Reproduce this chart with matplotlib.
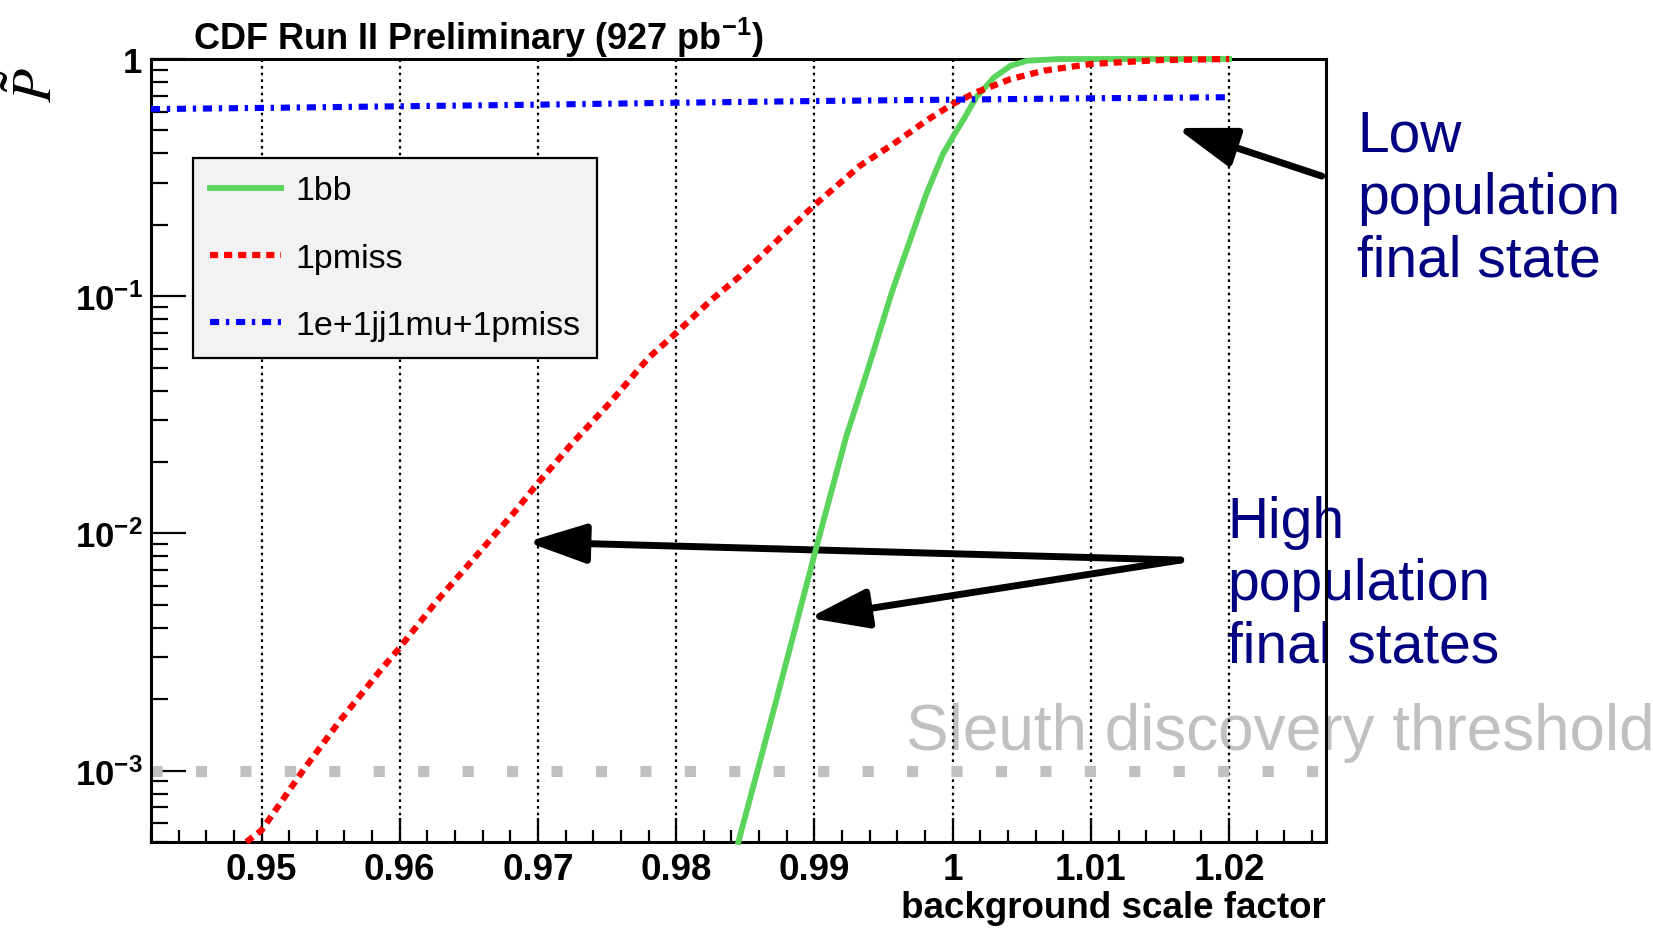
import numpy as np
import matplotlib.pyplot as plt
from matplotlib.ticker import MultipleLocator, LogLocator, FuncFormatter, NullFormatter

plt.rcParams['font.family'] = ['Liberation Sans', 'DejaVu Sans']
plt.rcParams['mathtext.fontset'] = 'custom'
plt.rcParams['mathtext.rm'] = 'Liberation Sans:bold'
plt.rcParams['mathtext.bf'] = 'Liberation Sans:bold'
plt.rcParams['mathtext.default'] = 'bf'

# values
x_1bb = [0.9845, 0.9870, 0.9902, 0.9923, 0.9940, 0.9956, 0.9969, 0.9981,
         0.9993, 1.0000, 1.0008, 1.0017, 1.0030, 1.0042, 1.0054, 1.0078, 1.0200]
p_1bb = [5.0e-4, 1.75e-3, 9.0e-3, 2.56e-2, 5.2e-2, 0.104, 0.171, 0.27,
         0.398, 0.468, 0.558, 0.689, 0.837, 0.937, 0.984, 1.0, 1.0]

x_1pmiss = [0.9489, 0.9500, 0.9530, 0.9557, 0.9585, 0.9600, 0.9627, 0.9655,
            0.9683, 0.9700, 0.9724, 0.9752, 0.9780, 0.9800, 0.9825, 0.9845,
            0.9870, 0.9900, 0.9933, 0.9957, 0.9981, 1.0000, 1.0017, 1.0042,
            1.0066, 1.0100, 1.0150, 1.0200]
p_1pmiss = [5.0e-4, 5.6e-4, 1.0e-3, 1.63e-3, 2.6e-3, 3.3e-3, 5.2e-3, 8.0e-3,
            1.23e-2, 1.63e-2, 2.37e-2, 3.55e-2, 5.5e-2, 7.0e-2, 9.6e-2, 0.12,
            0.165, 0.242, 0.355, 0.438, 0.55, 0.646, 0.724, 0.823,
            0.893, 0.953, 0.99, 1.0]

x_multi = [0.942, 0.950, 0.960, 0.970, 0.980, 0.990, 1.000, 1.010, 1.020]
p_multi = [0.615, 0.622, 0.632, 0.642, 0.654, 0.665, 0.674, 0.683, 0.690]

threshold = 1e-3

fig = plt.figure(figsize=(16.53, 9.29), dpi=100)
ax = fig.add_axes([0.0913, 0.0926, 0.7108, 0.8428])

ax.plot(x_1bb, p_1bb, color='#5ad45a', lw=4.2, label='1bb', clip_on=False, zorder=4)
ax.plot(x_1pmiss, p_1pmiss, color='#ff0000', lw=4.5, dashes=(1.3, 0.95),
        label='1pmiss', clip_on=False, zorder=4)
ax.plot(x_multi, p_multi, color='#0000ff', lw=4.4, dashes=(1.5, 1.1, 0.55, 1.1),
        label='1e+1jj1mu+1pmiss', zorder=4)
ax.axhline(threshold, color='#c0c0c0', lw=8, dashes=(1, 3), zorder=2)

ax.set_yscale('log')
ax.set_xlim(0.942, 1.027)
ax.set_ylim(5e-4, 1)

ax.xaxis.set_major_locator(MultipleLocator(0.01))
ax.xaxis.set_minor_locator(MultipleLocator(0.002))
ax.xaxis.set_major_formatter(FuncFormatter(lambda v, pos: '%g' % round(v, 3)))
ax.yaxis.set_major_locator(LogLocator(base=10))
ax.yaxis.set_minor_locator(LogLocator(base=10, subs=np.arange(2, 10)))
ax.yaxis.set_minor_formatter(NullFormatter())
ax.yaxis.set_major_formatter(FuncFormatter(
    lambda v, pos: '1' if abs(v - 1) < 1e-9 else r'$10^{%d}$' % round(np.log10(v))))

ax.tick_params(axis='both', which='both', direction='in', top=False, right=False,
               width=1.6)
ax.tick_params(axis='x', which='major', length=17, pad=7, labelsize=26.5)
ax.tick_params(axis='x', which='minor', length=9)
ax.tick_params(axis='y', which='major', length=25, pad=6, labelsize=25)
ax.tick_params(axis='y', which='minor', length=12)
for lab in ax.get_xticklabels() + ax.get_yticklabels():
    lab.set_fontweight('bold')
for s in ax.spines.values():
    s.set_linewidth(2.2)

ax.xaxis.grid(True, which='major', color='black', lw=1.6, linestyle=(0, (1.2, 1.8)))

leg = ax.legend(loc='upper left', bbox_to_anchor=(0.0357, 0.873), borderaxespad=0,
                fontsize=24.5, handlelength=2.1, handletextpad=0.4, labelspacing=1.06,
                borderpad=0.5, fancybox=False, framealpha=1)
leg.get_frame().set_facecolor('#f2f2f2')
leg.get_frame().set_edgecolor('black')
leg.get_frame().set_linewidth(1.6)

# arrows
arrow = dict(arrowstyle='-|>,head_length=1.8,head_width=0.6', color='black', lw=5,
             mutation_scale=20, shrinkA=0, shrinkB=0)
ax.annotate('', xy=(1.0162, 0.512), xytext=(1.0267, 0.321), arrowprops=arrow,
            annotation_clip=False)
ax.annotate('', xy=(0.9692, 9.2e-3), xytext=(1.0165, 7.72e-3), arrowprops=arrow,
            annotation_clip=False)
ax.annotate('', xy=(0.9896, 4.4e-3), xytext=(1.0165, 7.72e-3), arrowprops=arrow,
            annotation_clip=False)

# annotations
tf = fig.transFigure
ax.text(1357 / 1653, 1 - 110 / 929, 'Low\npopulation\nfinal state', transform=tf,
        color='#000080', fontsize=41, va='top', ha='left', clip_on=False, zorder=1)
ax.text(1227 / 1653, 1 - 496 / 929, 'High\npopulation\nfinal states', transform=tf,
        color='#000080', fontsize=41, va='top', ha='left', clip_on=False, zorder=1)
ax.text(906 / 1653, 1 - 750 / 929, 'Sleuth discovery threshold', transform=tf,
        color='#c0c0c0', fontsize=46, va='baseline', ha='left', clip_on=False, zorder=1)

fig.text(193 / 1653, 1 - 49.5 / 929, r'CDF Run II Preliminary (927 pb$^{-1}$)',
         fontsize=26, fontweight='bold', va='baseline', ha='left')
fig.text(1326 / 1653, 1 - 918 / 929, 'background scale factor',
         fontsize=26.5, fontweight='bold', va='baseline', ha='right')
fig.text(37 / 1653, 1 - 85 / 929, r'$\tilde{\mathit{P}}$', math_fontfamily='stix',
         fontsize=40, rotation=90, va='center', ha='center')

fig.savefig('out.png', dpi=100)
